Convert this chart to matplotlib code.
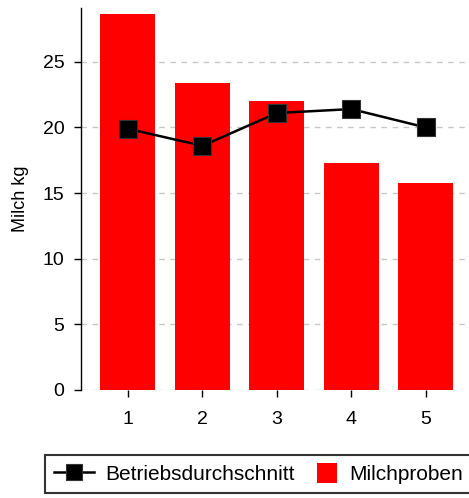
import matplotlib
matplotlib.use("Agg")
import matplotlib.pyplot as plt
from matplotlib.patches import Rectangle
from matplotlib.legend_handler import HandlerPatch

plt.rcParams['font.family'] = ['Liberation Sans', 'DejaVu Sans']

categories = [1, 2, 3, 4, 5]
milchproben = [28.65, 23.4, 22.0, 17.3, 15.8]
betriebsdurchschnitt = [19.9, 18.6, 21.1, 21.4, 20.0]
yticks = [0, 5, 10, 15, 20, 25]

fig = plt.figure(figsize=(4.69, 4.98), dpi=100)
ax = fig.add_axes([81/469, 1-390/498, 1-81/469, (390-8)/498])

bars = ax.bar(categories, milchproben, width=0.74, color='#ff0000', label='Milchproben', zorder=2)
ax.plot(categories, betriebsdurchschnitt, color='black', lw=1.8, marker='s', markersize=13.5,
        markerfacecolor='black', markeredgecolor='#333333', markeredgewidth=0.8,
        label='Betriebsdurchschnitt', zorder=3)

ax.set_xlim(0.37, 5.58)
ax.set_ylim(0, 29.1)
ax.set_yticks(yticks)
ax.set_xticks(categories)
ax.yaxis.grid(True, linestyle=(0, (4, 4)), color='#c8c8c8', lw=1, zorder=0)
ax.set_axisbelow(True)
for s in ['top', 'right', 'bottom']:
    ax.spines[s].set_visible(False)
ax.spines['left'].set_linewidth(1.0)
ax.tick_params(axis='both', labelsize=14, length=5, width=1, direction='out', color='black')
ax.tick_params(axis='x', pad=10)
ax.tick_params(axis='y', pad=7)
ax.set_ylabel('Milch kg', fontsize=13, labelpad=10)

SQ = 14.4  # points


def square_patch(legend, orig_handle, xdescent, ydescent, width, height, fontsize):
    return Rectangle((-xdescent + width - SQ - 0.5, -ydescent + (height - SQ) / 2), SQ, SQ)


def first_child(legend_handle, orig_handle):
    legend_handle.update_from(orig_handle.patches[0])


h, l = ax.get_legend_handles_labels()
leg = fig.legend(h, l, loc='center', bbox_to_anchor=(258.5/469, 1-474/498), ncol=2,
                 fontsize=15, frameon=True, fancybox=False, edgecolor='black',
                 handlelength=1.92, handleheight=0.9, columnspacing=0.15, borderpad=0.45,
                 handletextpad=0.53,
                 handler_map={type(bars): HandlerPatch(patch_func=square_patch,
                                                       update_func=first_child)})
leg.get_frame().set_linewidth(1.5)
for lh in leg.legend_handles:
    try:
        lh.set_markersize(11)
    except Exception:
        pass

fig.savefig('out.png', dpi=100)
